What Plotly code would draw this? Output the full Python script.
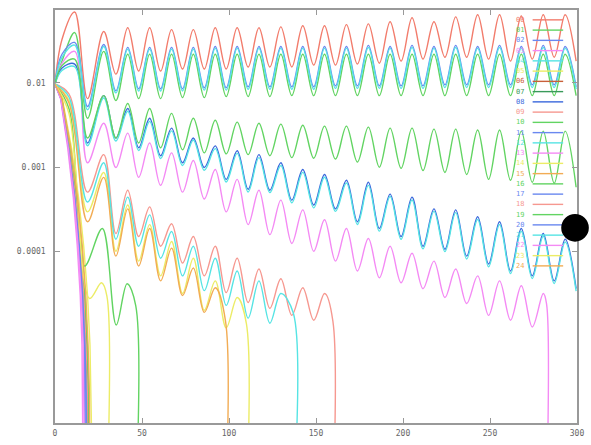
import plotly.graph_objects as go

# ---------------- data ----------------
PEAK_X = [28.0, 41.8, 54.4, 67.0, 79.5, 92.1, 104.7, 117.2, 129.8, 142.4, 154.9,
          167.5, 180.1, 192.6, 205.2, 217.8, 230.3, 242.9, 255.5, 268.0, 280.6, 293.2]
TROUGH_X = [35.0, 48.1, 60.7, 73.3, 85.8, 98.4, 111.0, 123.5, 136.1, 148.7, 161.2,
            173.8, 186.4, 198.9, 211.5, 224.1, 236.6, 249.2, 261.8, 274.3, 286.9, 299.5]

EARLY_X = [0, 4, 11.3, 18.7]
EARLY_X_LOW = [0, 8, 18.7]
DROP = 1e-7

# top red
A_early = [0.0097, 0.0326, 0.069, 0.0065]
A_peaks = [0.0405, 0.045, 0.045, 0.0427, 0.0427, 0.045, 0.045, 0.045, 0.046, 0.0475, 0.0475,
           0.049, 0.050, 0.053, 0.059, 0.053, 0.0605, 0.064, 0.064, 0.062, 0.064, 0.064]
A_troughs = [0.0127, 0.0138, 0.0138, 0.0146, 0.0146, 0.0146, 0.0154, 0.0154, 0.0154, 0.0162, 0.0162,
             0.0167, 0.0171, 0.0181, 0.0191, 0.0201, 0.0201, 0.0191, 0.0181, 0.0191, 0.0201, 0.0181]
# top blue
B_early = [0.0097, 0.0218, 0.0301, 0.00525]
B_peaks = [0.0285, 0.0263, 0.0263, 0.0263, 0.0263, 0.027, 0.027, 0.027, 0.027, 0.027, 0.027,
           0.027, 0.0278, 0.027, 0.0278, 0.027, 0.0278, 0.027, 0.0278, 0.027, 0.0278, 0.027]
B_troughs = [0.00807, 0.00851, 0.00851, 0.00851, 0.00875, 0.00875, 0.00898, 0.00898, 0.00898, 0.00898, 0.00923,
             0.00923, 0.00923, 0.00923, 0.00923, 0.00948, 0.00948, 0.00948, 0.00948, 0.00948, 0.00948, 0.00898]
# top cyan
B2_early = [0.0097, 0.020, 0.028, 0.0048]
B2_peaks = [0.027, 0.025, 0.025, 0.025, 0.025, 0.0256, 0.0256, 0.0256, 0.0256, 0.0256, 0.0256,
            0.0256, 0.0262, 0.0256, 0.0262, 0.0256, 0.0262, 0.0256, 0.0262, 0.0256, 0.0262, 0.0256]
B2_troughs = [0.0076, 0.008, 0.008, 0.008, 0.0082, 0.0082, 0.0084, 0.0084, 0.0084, 0.0084, 0.0086,
              0.0086, 0.0086, 0.0086, 0.0086, 0.0088, 0.0088, 0.0088, 0.0088, 0.0088, 0.0088, 0.0084]
# top green
C_early = [0.0097, 0.018, 0.0394, 0.0038]
C_peaks = [0.0236, 0.0218, 0.0218, 0.0218, 0.0218, 0.0218, 0.0218, 0.0218, 0.0218, 0.0218, 0.0218,
           0.0218, 0.0218, 0.0218, 0.0218, 0.0218, 0.0218, 0.0218, 0.0218, 0.0218, 0.0218, 0.0218]
C_troughs = [0.00617, 0.0065, 0.0065, 0.00668, 0.00668, 0.00687, 0.00687, 0.00687, 0.00705, 0.00705, 0.00705,
             0.00705, 0.00705, 0.00705, 0.00705, 0.00705, 0.00705, 0.00705, 0.00705, 0.00705, 0.00705, 0.00705]
# middle green
D_early = [0.0097, 0.016, 0.0191, 0.00222]
D_peaks = [0.00705, 0.00569, 0.00497, 0.00435, 0.0038, 0.00361, 0.00342, 0.00332, 0.00324, 0.00315, 0.00307,
           0.00307, 0.00299, 0.00291, 0.00291, 0.00283, 0.00283, 0.00276, 0.00276, 0.00268, 0.00268, 0.00268]
D_troughs = [0.00222, 0.00194, 0.0017, 0.00161, 0.00148, 0.00144, 0.00141, 0.00137, 0.0013, 0.00128, 0.00125,
             0.00115, 0.00100, 0.00097, 0.000914, 0.000868, 0.000822, 0.000718, 0.0007, 0.000663, 0.000646, 0.00058]
# middle blue
E_early = [0.0097, 0.015, 0.0167, 0.00194]
E_peaks = [0.00705, 0.00497, 0.0038, 0.00291, 0.00222, 0.00179, 0.00157, 0.00141, 0.00113, 0.00094, 0.000822,
           0.0007, 0.000663, 0.00048, 0.000443, 0.000321, 0.000313, 0.000259, 0.000226, 0.000188, 0.000164, 0.00014]
E_troughs = [0.00222, 0.0017, 0.00137, 0.00113, 0.000993, 0.000718, 0.000549, 0.000535, 0.000408, 0.000357, 0.000321,
             0.000226, 0.000188, 0.000151, 0.000116, 0.000107, 8.84e-5, 7.13e-5, 5.91e-5, 5.16e-5, 4.51e-5, 3.64e-5]
# middle cyan
E2_early = [0.0097, 0.014, 0.0155, 0.0018]
E2_peaks = [0.0066, 0.0046, 0.0035, 0.0027, 0.0021, 0.00166, 0.00146, 0.0013, 0.00105, 0.00087, 0.00076,
            0.00065, 0.00061, 0.00045, 0.00041, 0.0003, 0.00029, 0.00024, 0.00021, 0.000175, 0.000152, 0.00013]
E2_troughs = [0.00205, 0.00158, 0.00127, 0.00105, 0.00092, 0.00067, 0.00051, 0.0005, 0.00038, 0.00033, 0.0003,
              0.00021, 0.000175, 0.00014, 0.000108, 0.0001, 8.2e-5, 6.6e-5, 5.5e-5, 4.8e-5, 4.2e-5, 3.4e-5]
# middle magenta
F_early = [0.0097, 0.017, 0.0236, 0.00113]
F_peaks = [0.00332, 0.00254, 0.00194, 0.00148, 0.0012, 0.00094, 0.000718, 0.000535, 0.000408, 0.000313, 0.000239,
           0.000188, 0.000143, 0.000116, 9.57e-5, 7.73e-5, 6.24e-5, 5.16e-5, 4.51e-5, 3.95e-5, 3.19e-5]
F_troughs = [0.000993, 0.000759, 0.000611, 0.000507, 0.00042, 0.000296, 0.000209, 0.000159, 0.000125, 0.000101,
             7.73e-5, 5.91e-5, 4.9e-5, 4.28e-5, 3.64e-5, 2.86e-5, 2.43e-5, 1.76e-5, 1.54e-5, 1.28e-5]
F_end = (282.5, 2.4e-5)
# lower red
G_early = [0.0097, 0.0074, 0.000507]
G_peaks = [0.00141, 0.000535, 0.000339, 0.000214, 0.000151, 0.000116, 8.37e-5, 6.24e-5, 4.77e-5, 3.74e-5, 3.19e-5]
G_troughs = [0.000164, 0.000151, 0.000116, 7.32e-5, 5.16e-5, 3.27e-5, 2.5e-5, 2.13e-5, 1.76e-5, 1.54e-5]
G_end = (159.7, 1.5e-5)
# lower cyan
H_early = [0.0097, 0.0068, 0.000387]
H_peaks = [0.00113, 0.000443, 0.000273, 0.000173, 0.000116, 8.37e-5, 5.91e-5, 4.51e-5, 3.19e-5]
H_troughs = [0.00014, 0.000116, 8.37e-5, 5.16e-5, 3.45e-5, 2.31e-5, 1.63e-5, 1.42e-5]
H_end = (137.0, 1.86e-5)
# lower yellow
I_early = [0.0097, 0.0062, 0.000296]
I_peaks = [0.000868, 0.000357, 0.000209, 0.000132, 8.37e-5, 4.51e-5, 2.86e-5]
I_troughs = [0.000101, 7.73e-5, 5.16e-5, 3.19e-5, 2.02e-5, 1.25e-5]
I_end = (110.0, 1.4e-5)
# lower orange
J_early = [0.0097, 0.0058, 0.000226]
J_peaks = [0.000759, 0.000321, 0.000188, 0.00011, 6.4e-5, 3.74e-5]
J_troughs = [8.84e-5, 6.76e-5, 4.51e-5, 3.02e-5, 1.91e-5]
J_end = (98.0, 1.5e-5)
# short green and yellow
K_x = [0, 8, 17.0, 27.2, 35.2, 41.4, 46.4]
K_y = [0.0097, 0.00497, 6.76e-5, 0.000188, 1.35e-5, 4.17e-5, 2.3e-5]
L_x = [0, 8, 19.9, 26.7, 29.8]
L_y = [0.0097, 0.00435, 2.79e-5, 4.28e-5, 3.0e-5]
# fast-falling curves
FAN_Y = [0.0097, 0.0065, 0.0017, 0.000443, 0.000116, 3.02e-5, 7.87e-6, 2.06e-6]
FAN_05 = [0, 4.2, 9.5, 13.5, 16.5, 18.7, 20.1, 21.0, 21.8]
FAN_06 = [0, 3.8, 8.6, 12.3, 15.0, 17.0, 18.3, 19.1, 19.5]
FAN_07 = [0, 3.7, 8.4, 12.0, 14.7, 16.6, 17.8, 18.6, 19.0]
FAN_11 = [0, 3.6, 8.2, 11.8, 14.4, 16.3, 17.5, 18.2, 18.6]
FAN_13 = [0, 3.2, 7.3, 10.5, 12.8, 14.5, 15.5, 16.0, 16.3]
FAN_17 = [0, 3.5, 8.0, 11.5, 14.0, 15.8, 17.0, 17.8, 18.1]
FAN_18 = [0, 3.7, 8.5, 12.1, 14.8, 16.7, 18.0, 18.8, 19.2]
FAN_19 = [0, 3.9, 8.8, 12.6, 15.3, 17.3, 18.6, 19.4, 19.8]
FAN_20 = [0, 3.4, 7.8, 11.2, 13.7, 15.5, 16.7, 17.4, 17.7]
FAN_22 = [0, 3.3, 7.6, 10.9, 13.3, 15.1, 16.2, 16.9, 17.2]
FAN_24 = [0, 4.0, 9.0, 12.9, 15.7, 17.7, 19.0, 19.8, 20.2]

NAMES = ["%02d" % i for i in range(25)]

RED, GREEN, BLUE, MAG, CYAN = "#f27c6c", "#62d462", "#6a88f0", "#f48af4", "#56e4e4"
YEL, SIENNA, DGREEN, DBLUE = "#ecec66", "#c8603a", "#3a9a5a", "#3a68dc"
SALMON, ORANGE = "#f69890", "#f2ac54"


def wave(early_x, early_y, peaks, troughs, end=None):
    xs, ys = list(early_x), list(early_y)
    for k, p in enumerate(peaks):
        xs.append(PEAK_X[k]); ys.append(p)
        if k < len(troughs):
            xs.append(TROUGH_X[k]); ys.append(troughs[k])
    if end is not None:
        xs += [end[0], end[0]]
        ys += [end[1], DROP]
    return xs, ys


def fan(xs):
    return list(xs), list(FAN_Y) + [DROP]


series = [
    (wave(EARLY_X, A_early, A_peaks, A_troughs), RED, "spline"),
    (wave(EARLY_X, C_early, C_peaks, C_troughs), GREEN, "spline"),
    (wave(EARLY_X, B_early, B_peaks, B_troughs), BLUE, "spline"),
    (wave(EARLY_X, F_early, F_peaks, F_troughs, F_end), MAG, "spline"),
    (wave(EARLY_X, B2_early, B2_peaks, B2_troughs), CYAN, "spline"),
    (fan(FAN_05), YEL, "linear"),
    (fan(FAN_06), SIENNA, "linear"),
    (fan(FAN_07), DGREEN, "linear"),
    (wave(EARLY_X, E_early, E_peaks, E_troughs), DBLUE, "spline"),
    (wave(EARLY_X_LOW, G_early, G_peaks, G_troughs, G_end), SALMON, "spline"),
    ((K_x + [K_x[-1]], K_y + [DROP]), GREEN, "spline"),
    (fan(FAN_11), BLUE, "linear"),
    (wave(EARLY_X, E2_early, E2_peaks, E2_troughs), CYAN, "spline"),
    (fan(FAN_13), MAG, "linear"),
    (wave(EARLY_X_LOW, I_early, I_peaks, I_troughs, I_end), YEL, "spline"),
    (wave(EARLY_X_LOW, J_early, J_peaks, J_troughs, J_end), ORANGE, "spline"),
    (wave(EARLY_X, D_early, D_peaks, D_troughs), GREEN, "spline"),
    (fan(FAN_17), BLUE, "linear"),
    (fan(FAN_18), SALMON, "linear"),
    (fan(FAN_19), GREEN, "linear"),
    (fan(FAN_20), BLUE, "linear"),
    (wave(EARLY_X_LOW, H_early, H_peaks, H_troughs, H_end), CYAN, "spline"),
    (fan(FAN_22), MAG, "linear"),
    ((L_x + [L_x[-1]], L_y + [DROP]), YEL, "spline"),
    (fan(FAN_24), ORANGE, "linear"),
]

fig = go.Figure()
for name, ((xs, ys), col, shape) in zip(NAMES, series):
    fig.add_trace(go.Scatter(x=xs, y=ys, mode="lines", name=name,
                             line=dict(color=col, width=1.4, shape=shape),
                             showlegend=False))

# gnuplot-like key (text left, sample right)
PLOT_T, PLOT_B = 10, 429
annotations, shapes = [], []
for i, (name, (_, col, _s)) in enumerate(zip(NAMES, series)):
    ypx = 20 + 10.4 * i
    yp = (PLOT_B - ypx) / (PLOT_B - PLOT_T)
    annotations.append(dict(x=0.890, y=yp, xref="paper", yref="paper", text=name,
                            showarrow=False, xanchor="center", yanchor="middle",
                            font=dict(size=7, color=col, family="DejaVu Sans Mono")))
    shapes.append(dict(type="line", xref="paper", yref="paper", x0=0.915, x1=0.9735,
                       y0=yp, y1=yp, line=dict(color=col, width=1.4)))

# black dot seen on the right edge of the picture
shapes.append(dict(type="circle", xref="paper", yref="paper",
                   x0=(568 - 55) / 529, x1=(596 - 55) / 529,
                   y0=(PLOT_B - 245) / 419, y1=(PLOT_B - 217) / 419,
                   fillcolor="black", line=dict(color="black", width=0), layer="above"))

axis_font = dict(size=8, color="#666666", family="DejaVu Sans Mono")
fig.update_layout(
    width=591, height=445,
    margin=dict(l=55, r=7, t=10, b=16),
    paper_bgcolor="white", plot_bgcolor="white",
    annotations=annotations, shapes=shapes,
    xaxis=dict(range=[0, 300], tickvals=[0, 50, 100, 150, 200, 250, 300],
               ticks="inside", ticklen=5, tickcolor="#999999",
               showline=True, linecolor="#999999", linewidth=1.5, mirror="ticks",
               showgrid=False, zeroline=False, tickfont=axis_font, ticklabelstandoff=2),
    yaxis=dict(type="log", range=[-6.03, -1.137],
               tickvals=[1e-4, 1e-3, 1e-2], ticktext=["0.0001", "0.001", "0.01"],
               ticks="inside", ticklen=5, tickcolor="#999999",
               showline=True, linecolor="#999999", linewidth=1.5, mirror="ticks",
               showgrid=False, zeroline=False, tickfont=axis_font, ticklabelstandoff=6),
)

fig.write_html("out.html")
